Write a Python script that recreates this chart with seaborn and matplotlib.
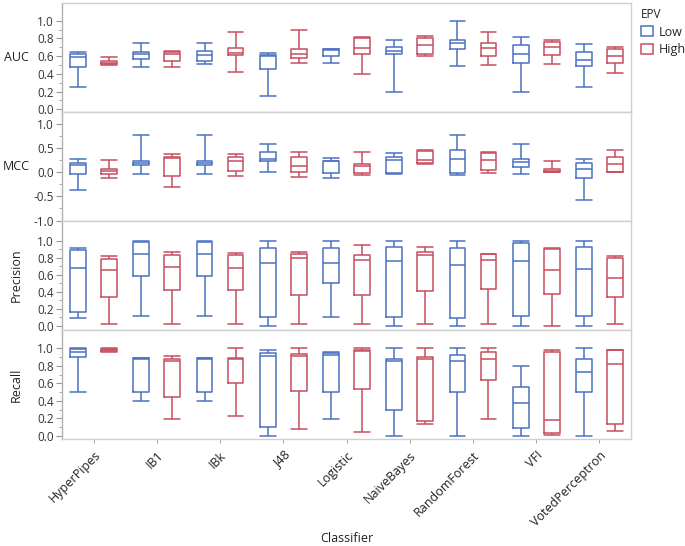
import numpy as np
import pandas as pd
import matplotlib
matplotlib.use('Agg')
import matplotlib.pyplot as plt
from matplotlib.patches import Patch
from matplotlib.ticker import FixedLocator, FormatStrFormatter
import seaborn as sns

classifiers = ['HyperPipes', 'IB1', 'IBk', 'J48', 'Logistic', 'NaiveBayes',
               'RandomForest', 'VFI', 'VotedPerceptron']
epv_levels = ['Low', 'High']
metrics = ['AUC', 'MCC', 'Precision', 'Recall']

# five-number summaries: (min, q1, median, q3, max)
auc_low = [(0.25, 0.48, 0.59, 0.62, 0.65), (0.48, 0.565, 0.62, 0.65, 0.75),
           (0.51, 0.54, 0.615, 0.66, 0.75), (0.15, 0.45, 0.60, 0.615, 0.64),
           (0.52, 0.60, 0.67, 0.676, 0.684), (0.20, 0.62, 0.66, 0.70, 0.78),
           (0.485, 0.676, 0.745, 0.784, 1.0), (0.20, 0.52, 0.63, 0.73, 0.815),
           (0.25, 0.485, 0.553, 0.645, 0.738)]
auc_high = [(0.50, 0.51, 0.52, 0.545, 0.59), (0.476, 0.54, 0.63, 0.645, 0.655),
            (0.42, 0.615, 0.638, 0.69, 0.877), (0.52, 0.575, 0.62, 0.676, 0.90),
            (0.40, 0.623, 0.69, 0.80, 0.815), (0.60, 0.623, 0.73, 0.81, 0.83),
            (0.50, 0.60, 0.69, 0.753, 0.877), (0.507, 0.615, 0.70, 0.76, 0.784),
            (0.407, 0.522, 0.607, 0.676, 0.70)]

mcc_low = [(-0.38, -0.04, 0.15, 0.19, 0.27), (-0.04, 0.15, 0.19, 0.23, 0.76),
           (-0.04, 0.15, 0.19, 0.23, 0.76), (0.0, 0.23, 0.27, 0.42, 0.57),
           (-0.13, -0.01, 0.22, 0.235, 0.29), (-0.04, -0.014, 0.257, 0.31, 0.39),
           (-0.054, -0.014, 0.27, 0.446, 0.76), (-0.04, 0.095, 0.20, 0.27, 0.57),
           (-0.57, -0.12, 0.054, 0.19, 0.27)]
mcc_high = [(-0.12, -0.04, 0.014, 0.054, 0.24), (-0.30, -0.08, 0.30, 0.32, 0.365),
            (-0.08, 0.03, 0.23, 0.32, 0.365), (-0.11, 0.0, 0.12, 0.31, 0.405),
            (-0.07, -0.014, 0.12, 0.176, 0.405), (0.176, 0.19, 0.257, 0.43, 0.446),
            (-0.014, 0.04, 0.257, 0.39, 0.405), (0.0, 0.0, 0.027, 0.054, 0.23),
            (0.0, 0.0, 0.176, 0.32, 0.446)]

precision_low = [(0.09, 0.165, 0.68, 0.885, 0.916), (0.115, 0.58, 0.847, 0.985, 0.99),
                 (0.115, 0.58, 0.847, 0.985, 0.99), (0.0, 0.10, 0.733, 0.916, 0.99),
                 (0.10, 0.504, 0.733, 0.91, 0.99), (0.0, 0.10, 0.756, 0.924, 0.99),
                 (0.0, 0.092, 0.718, 0.91, 0.99), (0.0, 0.122, 0.756, 0.97, 1.0),
                 (0.0, 0.115, 0.664, 0.924, 0.99)]
precision_high = [(0.023, 0.343, 0.656, 0.786, 0.817), (0.023, 0.427, 0.687, 0.83, 0.87),
                  (0.023, 0.42, 0.68, 0.83, 0.855), (0.023, 0.366, 0.80, 0.84, 0.87),
                  (0.023, 0.366, 0.77, 0.83, 0.947), (0.023, 0.405, 0.83, 0.87, 0.924),
                  (0.023, 0.435, 0.77, 0.84, 0.847), (0.0, 0.38, 0.656, 0.90, 0.91),
                  (0.023, 0.343, 0.565, 0.80, 0.824)]

recall_low = [(0.504, 0.90, 0.96, 0.99, 1.0), (0.405, 0.504, 0.878, 0.885, 0.893),
              (0.405, 0.504, 0.878, 0.885, 0.893), (0.0, 0.10, 0.916, 0.947, 0.985),
              (0.198, 0.504, 0.93, 0.947, 0.96), (0.0, 0.30, 0.855, 0.878, 1.0),
              (0.0, 0.504, 0.855, 0.924, 1.0), (0.0, 0.092, 0.38, 0.565, 0.80),
              (0.0, 0.504, 0.733, 0.878, 1.0)]
recall_high = [(0.96, 0.97, 0.98, 0.99, 1.0), (0.19, 0.443, 0.855, 0.878, 0.916),
               (0.23, 0.603, 0.878, 0.893, 1.0), (0.076, 0.51, 0.908, 0.94, 1.0),
               (0.046, 0.54, 0.97, 0.985, 1.0), (0.137, 0.175, 0.878, 0.90, 1.0),
               (0.19, 0.634, 0.878, 0.96, 1.0), (0.015, 0.03, 0.183, 0.954, 0.985),
               (0.06, 0.137, 0.824, 0.977, 0.977)]

summaries = {
    'AUC': (auc_low, auc_high),
    'MCC': (mcc_low, mcc_high),
    'Precision': (precision_low, precision_high),
    'Recall': (recall_low, recall_high),
}

# 5 points per box -> numpy percentiles give back exactly q1/median/q3
rows = []
for metric, (low, high) in summaries.items():
    for epv, summ in zip(epv_levels, (low, high)):
        for clf, vals in zip(classifiers, summ):
            for v in vals:
                rows.append((metric, clf, epv, v))
df = pd.DataFrame(rows, columns=['metric', 'Classifier', 'EPV', 'value'])

sns.set_style('white')
plt.rcParams['font.family'] = ['Open Sans', 'DejaVu Sans']

palette = {'Low': '#4C72C2', 'High': '#C74E60'}
ylims = {'AUC': (-0.03, 1.2), 'MCC': (-1.01, 1.24),
         'Precision': (-0.047, 1.23), 'Recall': (-0.034, 1.21)}
unit_ticks = [0.0, 0.2, 0.4, 0.6, 0.8, 1.0]
unit_minor = [0.1, 0.3, 0.5, 0.7, 0.9]
mcc_ticks = [-1.0, -0.5, 0.0, 0.5, 1.0]
mcc_minor = [-0.75, -0.25, 0.25, 0.75]
width, gap = 0.98, 0.49
box_w = width / 2 * (1 - gap)

fig, axes = plt.subplots(4, 1, figsize=(6.85, 5.46), dpi=100, sharex=True)
fig.subplots_adjust(left=62 / 685, right=631 / 685, top=1 - 3 / 546,
                    bottom=1 - 439 / 546, hspace=0)

for ax, metric in zip(axes, metrics):
    sns.boxplot(data=df[df['metric'] == metric], x='Classifier', y='value',
                hue='EPV', order=classifiers, hue_order=epv_levels,
                palette=palette, fill=False, whis=(0, 100), width=width,
                gap=gap, linewidth=1.1, legend=False, ax=ax)

    # make whisker caps as wide as the boxes
    for line in ax.lines:
        xd = np.asarray(line.get_xdata(), float)
        yd = np.asarray(line.get_ydata(), float)
        if len(xd) == 2 and yd[0] == yd[1] and abs(xd[1] - xd[0]) < box_w * 0.75:
            c = xd.mean()
            line.set_xdata([c - box_w / 2, c + box_w / 2])

    ax.set_ylim(*ylims[metric])
    if metric == 'MCC':
        ax.yaxis.set_major_locator(FixedLocator(mcc_ticks))
        ax.yaxis.set_minor_locator(FixedLocator(mcc_minor))
    else:
        ax.yaxis.set_major_locator(FixedLocator(unit_ticks))
        ax.yaxis.set_minor_locator(FixedLocator(unit_minor))
    ax.yaxis.set_major_formatter(FormatStrFormatter('%.1f'))
    ax.tick_params(axis='y', which='major', left=True, length=4, width=0.8,
                   color='#999999', labelsize=8.5, labelcolor='#333333', pad=2)
    ax.tick_params(axis='y', which='minor', left=True, length=2, width=0.6,
                   color='#999999')
    ax.tick_params(axis='x', bottom=True, length=3, width=0.6, color='#999999')

    for side, sp in ax.spines.items():
        sp.set_visible(True)
        sp.set_color('#d0d0d0')
        sp.set_linewidth(1.0)
    ax.spines['left'].set_color('#b0b0b0')

    if metric in ('AUC', 'MCC'):
        ax.set_ylabel(metric, rotation=0, fontsize=9, color='#222222')
        ax.yaxis.label.set_ha('center')
        ax.yaxis.label.set_va('center')
        ax.yaxis.set_label_coords(-0.08, 0.5)
    else:
        ax.set_ylabel(metric, rotation=90, fontsize=9, color='#222222')
        ax.yaxis.label.set_va('center')
        ax.yaxis.set_label_coords(-0.081, 0.5)

ax = axes[-1]
ax.set_xticks(range(len(classifiers)))
ax.set_xticklabels(classifiers, rotation=45, ha='right', rotation_mode='anchor',
                   fontsize=9, color='#222222')
ax.tick_params(axis='x', pad=4)
ax.set_xlabel('Classifier', fontsize=9, color='#222222')
ax.xaxis.set_label_coords(0.5, -0.91)
ax.xaxis.label.set_va('center')
ax.set_xlim(-0.5, len(classifiers) - 0.5)

handles = [Patch(facecolor='none', edgecolor=palette[k], linewidth=1.1, label=k)
           for k in epv_levels]
fig.legend(handles=handles, title='EPV', loc='upper left',
           bbox_to_anchor=(633 / 685, 1.0), frameon=False, fontsize=9,
           title_fontsize=8.5, alignment='left', handlelength=1.0,
           handleheight=0.8, handletextpad=0.5, labelspacing=0.4,
           borderaxespad=0.2)

fig.savefig('out.png', dpi=100)
